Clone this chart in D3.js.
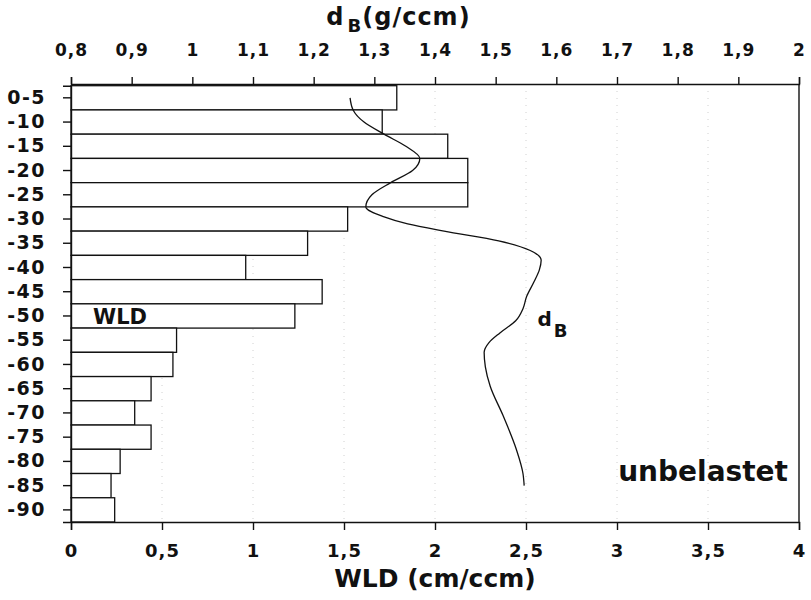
<!DOCTYPE html>
<html>
<head>
<meta charset="utf-8">
<script src="https://cdn.jsdelivr.net/npm/d3@7"></script>
<style>
    body { margin: 0; background: #fff; }
    svg text { font-family: "DejaVu Sans", sans-serif; font-weight: bold; fill: #111; }
</style>
</head>
<body>
<div id="chart"></div>
<script>
// depth classes (cm) and root length density (WLD, cm/ccm)
const depthLabels = ["0-5", "-10", "-15", "-20", "-25", "-30", "-35", "-40", "-45", "-50",
    "-55", "-60", "-65", "-70", "-75", "-80", "-85", "-90"];
const wldValues = [1.79, 1.71, 2.07, 2.18, 2.18, 1.52, 1.30, 0.96, 1.38, 1.23,
    0.58, 0.56, 0.44, 0.35, 0.44, 0.27, 0.22, 0.24];

// bulk density curve d_B (g/ccm) over depth (cm)
const dbDepth = [2.5, 5, 7.5, 10, 12.5, 15, 17.5, 20, 22.5, 25, 27, 28.5, 30, 32, 34, 36,
    38, 40.5, 43.5, 46, 48.5, 51, 53, 55, 58, 62, 68, 75, 80, 82.5];
const dbValues = [1.26, 1.265, 1.283, 1.316, 1.352, 1.375, 1.363, 1.327, 1.296, 1.286, 1.315, 1.355,
    1.415, 1.505, 1.557, 1.575, 1.572, 1.563, 1.551, 1.545, 1.533, 1.507, 1.489, 1.481,
    1.483, 1.491, 1.512, 1.534, 1.545, 1.547];

const bottomTicks = [0, 0.5, 1, 1.5, 2, 2.5, 3, 3.5, 4];
const topTicks = [0.8, 0.9, 1, 1.1, 1.2, 1.3, 1.4, 1.5, 1.6, 1.7, 1.8, 1.9, 2];
const gridTicks = [0.5, 1, 1.5, 2, 2.5, 3, 3.5];

const margin = { top: 84, right: 12, bottom: 78, left: 71 };
const width = 811 - margin.left - margin.right;
const height = 600 - margin.top - margin.bottom;

const comma = d3.formatLocale({ decimal: ",", thousands: ".", grouping: [3], currency: ["", ""] }).format("~g");

const svg = d3.select("#chart")
    .append("svg")
    .attr("width", 811)
    .attr("height", 600)
    .append("g")
    .attr("transform", "translate(" + margin.left + "," + margin.top + ")");

const xScale = d3.scaleLinear().domain([0, 4]).range([0, width]);
const xTop = d3.scaleLinear().domain([0.8, 2]).range([0, width]);
const yScale = d3.scaleBand().domain(depthLabels).range([1.7, height]).padding(0);
const yDepth = d3.scaleLinear().domain([0, 90]).range([1.7, height]);

// faint dotted grid lines
svg.selectAll(".grid")
    .data(gridTicks)
    .enter().append("line")
    .attr("class", "grid")
    .attr("x1", d => xScale(d))
    .attr("x2", d => xScale(d))
    .attr("y1", 0)
    .attr("y2", height)
    .attr("stroke", "#c4c4c4")
    .attr("stroke-width", 0.8)
    .attr("stroke-dasharray", "1,6");

// WLD bars
svg.selectAll(".bar")
    .data(wldValues)
    .enter().append("rect")
    .attr("class", "bar")
    .attr("x", 0)
    .attr("y", (d, i) => yScale(depthLabels[i]))
    .attr("width", d => xScale(d))
    .attr("height", yScale.bandwidth())
    .attr("fill", "#fff")
    .attr("stroke", "#111")
    .attr("stroke-width", 1.3);

// d_B curve
const line = d3.line()
    .x(d => xTop(d[1]))
    .y(d => yDepth(d[0]))
    .curve(d3.curveMonotoneY);

svg.append("path")
    .datum(dbDepth.map((d, i) => [d, dbValues[i]]))
    .attr("d", line)
    .attr("fill", "none")
    .attr("stroke", "#111")
    .attr("stroke-width", 1.3);

// axes
const xAxis = d3.axisBottom(xScale).tickValues(bottomTicks).tickFormat(comma).tickSize(8).tickPadding(14);
const topAxis = d3.axisTop(xTop).tickValues(topTicks).tickFormat(comma).tickSize(7).tickPadding(21);
const yAxis = d3.axisLeft(yScale).tickSize(8).tickPadding(17);

svg.append("g")
    .attr("class", "x-axis")
    .attr("transform", "translate(0," + height + ")")
    .call(xAxis)
    .selectAll("text")
    .style("font-size", "18px")
    .style("letter-spacing", "1px");

svg.append("g")
    .attr("class", "top-axis")
    .call(topAxis)
    .selectAll("text")
    .style("font-size", "17px")
    .style("letter-spacing", "1px");

svg.append("g")
    .attr("class", "y-axis")
    .call(yAxis)
    .selectAll("text")
    .style("font-size", "19px")
    .style("letter-spacing", "1.5px");

svg.selectAll(".domain, .tick line")
    .attr("stroke", "#111")
    .attr("stroke-width", 1.4);

svg.append("line")
    .attr("x1", width).attr("x2", width)
    .attr("y1", 0).attr("y2", height)
    .attr("stroke", "#111")
    .attr("stroke-width", 1.4);

// titles and labels
const topTitle = svg.append("text")
    .attr("x", xTop(1.3) - 48)
    .attr("y", -59)
    .style("font-size", "24px")
    .style("letter-spacing", "1px");
topTitle.append("tspan").text("d");
topTitle.append("tspan").attr("dy", 7).attr("dx", 3).style("font-size", "18px").text("B");
topTitle.append("tspan").attr("dy", -7).text("(g/ccm)");

svg.append("text")
    .attr("x", xScale(2))
    .attr("y", height + 65)
    .style("text-anchor", "middle")
    .style("font-size", "25px")
    .text("WLD (cm/ccm)");

svg.append("text")
    .attr("x", 22)
    .attr("y", yScale("-50") + yScale.bandwidth() / 2 + 8)
    .style("font-size", "21px")
    .text("WLD");

const dbLabel = svg.append("text")
    .attr("x", xTop(1.569))
    .attr("y", yDepth(49.5))
    .style("font-size", "20px");
dbLabel.append("tspan").text("d");
dbLabel.append("tspan").attr("dy", 11).attr("dx", 2).style("font-size", "18px").text("B");

svg.append("text")
    .attr("x", width - 11)
    .attr("y", yDepth(81.5))
    .style("text-anchor", "end")
    .style("font-size", "28px")
    .text("unbelastet");
</script>
</body>
</html>
